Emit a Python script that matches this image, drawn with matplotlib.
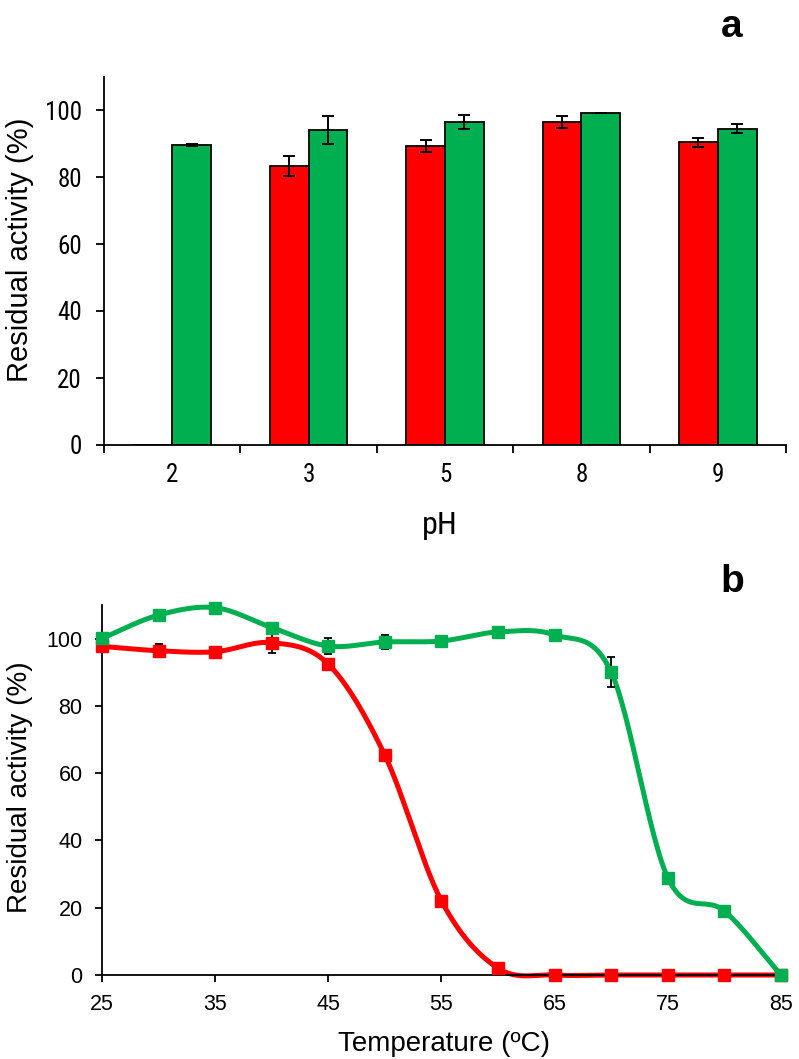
import matplotlib
matplotlib.use("Agg")
import matplotlib.pyplot as plt
import numpy as np

plt.rcParams['font.family'] = ['Liberation Sans', 'DejaVu Sans']
narrow = ['Roboto Condensed', 'Liberation Sans', 'DejaVu Sans']

# panel a data
ph_labels = ["2", "3", "5", "8", "9"]
red_ph = [0, 83.2, 89.3, 96.3, 90.3]
red_ph_err = [0, 3.0, 1.8, 1.8, 1.4]
green_ph = [89.6, 94.0, 96.5, 99.1, 94.4]
green_ph_err = [0.4, 4.2, 2.1, 0.1, 1.3]

# panel b data
temps = [25, 30, 35, 40, 45, 50, 55, 60, 65, 70, 75, 80, 85]
red_t = [97.7, 96.4, 96.1, 98.8, 92.4, 65.3, 22.0, 2.0, 0, 0, 0, 0, 0]
red_t_err = [0.8, 2.0, 0.8, 3.0, 0.8, 0.5, 0.5, 0.3, 0, 0, 0, 0, 0]
green_t = [100.1, 107.0, 109.2, 103.3, 97.8, 99.0, 99.3, 102.0, 101.1, 90.0, 28.9, 19.0, 0]
green_t_err = [0.5, 0.8, 0.5, 0.8, 2.5, 2.0, 0.5, 0.5, 0.5, 4.5, 0.5, 0.5, 0]

RED = "#FF0000"
GREEN = "#00B050"


def smooth(x, y, n=30):
    # Catmull-Rom style smoothing like spreadsheet "smoothed line"
    x = np.asarray(x, float)
    y = np.asarray(y, float)
    px = np.concatenate([[2 * x[0] - x[1]], x, [2 * x[-1] - x[-2]]])
    py = np.concatenate([[2 * y[0] - y[1]], y, [2 * y[-1] - y[-2]]])
    xs, ys = [], []
    t = np.linspace(0, 1, n)
    for i in range(1, len(px) - 2):
        for p, out in ((px, xs), (py, ys)):
            p0, p1, p2, p3 = p[i - 1], p[i], p[i + 1], p[i + 2]
            out.append(0.5 * ((2 * p1) + (-p0 + p2) * t
                              + (2 * p0 - 5 * p1 + 4 * p2 - p3) * t ** 2
                              + (-p0 + 3 * p1 - 3 * p2 + p3) * t ** 3))
    return np.concatenate(xs), np.concatenate(ys)


W, H = 799, 1059
fig = plt.figure(figsize=(W / 100, H / 100), dpi=100)

# ---- panel a  (pixel box: x 104..786, y 76..445)
ax1 = fig.add_axes([104 / W, 1 - 445 / H, (786 - 104) / W, (445 - 76.5) / H])
pos = np.arange(len(ph_labels))
w = 0.285
ebk = dict(ecolor="black", elinewidth=1.4, capsize=4.5, capthick=1.4)
ax1.bar(pos - w / 2, red_ph, w, color=RED, edgecolor="black", linewidth=1.3,
        yerr=[e if v > 0 else np.nan for v, e in zip(red_ph, red_ph_err)], error_kw=ebk)
ax1.bar(pos + w / 2, green_ph, w, color=GREEN, edgecolor="black", linewidth=1.3,
        yerr=green_ph_err, error_kw=ebk)
ax1.set_xlim(-0.5, len(ph_labels) - 0.5)
ax1.set_ylim(0, 110)
ax1.set_yticks(np.arange(0, 101, 20))
ax1.set_xticks(pos)
ax1.set_xticklabels(ph_labels)
ax1.set_xticks(np.arange(-0.5, len(ph_labels), 1), minor=True)
ax1.tick_params(axis="x", which="major", length=0, pad=13)
ax1.tick_params(axis="x", which="minor", length=6, width=1.3, direction="out")
ax1.tick_params(axis="y", length=6, width=1.3, pad=10)
for lab in ax1.get_xticklabels() + ax1.get_yticklabels():
    lab.set_family(narrow)
    lab.set_fontsize(18)
for s in ["top", "right"]:
    ax1.spines[s].set_visible(False)
for s in ["left", "bottom"]:
    ax1.spines[s].set_linewidth(1.3)
fig.text(20 / W, 1 - 250 / H, "Residual activity (%)", fontsize=21, rotation=90,
         ha="center", va="center")
fig.text(440 / W, 1 - 525 / H, "pH", fontsize=23, family=narrow, ha="center", va="center")
fig.text(732 / W, 1 - 27 / H, "a", fontsize=28, fontweight="bold",
         ha="center", va="center")

# ---- panel b  (pixel box: x 102..781, y 605..975)
ax2 = fig.add_axes([102 / W, 1 - 975 / H, (781 - 102) / W, (975 - 605) / H])
for yv, err, col in ((red_t, red_t_err, RED), (green_t, green_t_err, GREEN)):
    sx, sy = smooth(temps, yv)
    ax2.plot(sx, sy, color=col, lw=3.6, zorder=2, clip_on=False)
    ax2.errorbar(temps, yv, yerr=err, fmt="none", ecolor="black", elinewidth=1.3,
                 capsize=3, capthick=1.3, zorder=3, clip_on=False)
    ax2.plot(temps, yv, "s", color=col, markersize=9, zorder=4, clip_on=False)
ax2.set_xlim(25, 85)
ax2.set_ylim(0, 110)
ax2.set_xticks(np.arange(25, 86, 10))
ax2.set_yticks(np.arange(0, 101, 20))
ax2.tick_params(length=5, width=1.3, labelsize=15.5, pad=9)
for s in ["top", "right"]:
    ax2.spines[s].set_visible(False)
for s in ["left", "bottom"]:
    ax2.spines[s].set_linewidth(1.3)
fig.text(20 / W, 1 - 787 / H, "Residual activity (%)", fontsize=20, rotation=90,
         ha="center", va="center")
fig.text(444 / W, 1 - 1044 / H, "Temperature (ºC)", fontsize=20, ha="center", va="center")
fig.text(732 / W, 1 - 582 / H, "b", fontsize=28, fontweight="bold", ha="center", va="center")

fig.savefig("out.png", dpi=100)
